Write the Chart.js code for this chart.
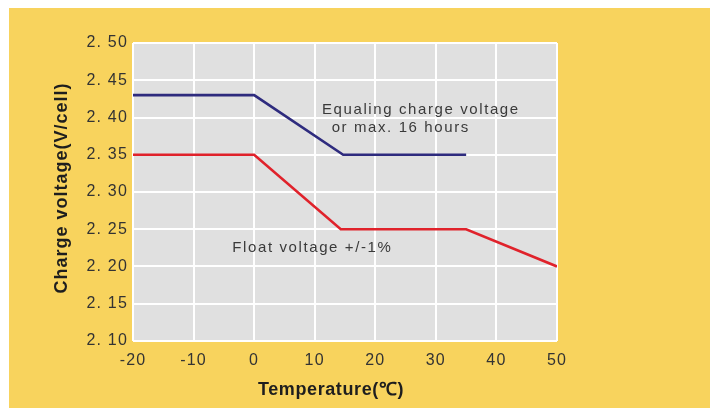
<!DOCTYPE html>
<html>
<head>
<meta charset="utf-8">
<script src="https://cdn.jsdelivr.net/npm/chart.js@4"></script>
<style>
  html, body { margin: 0; padding: 0; background: #ffffff; }
  #wrap { position: relative; width: 717px; height: 408px; }
</style>
</head>
<body>
<div id="wrap"><canvas id="c" width="717" height="408"></canvas></div>
<script>
// ---- data ----
const equalizeTemps = [-20, 0, 14.7, 35];
const equalizeVolts = [2.43, 2.43, 2.35, 2.35];
const floatTemps = [-20, 0, 14.3, 35, 50];
const floatVolts = [2.35, 2.35, 2.25, 2.25, 2.20];
const xTickValues = [-20, -10, 0, 10, 20, 30, 40, 50];
const yTickValues = [2.10, 2.15, 2.20, 2.25, 2.30, 2.35, 2.40, 2.45, 2.50];
const xTitle = 'Temperature(℃)';
const yTitle = 'Charge voltage(V/cell)';
const equalizeLabel = ['Equaling charge voltage', 'or max. 16 hours'];
const floatLabel = 'Float voltage +/-1%';

const toPts = (xs, ys) => xs.map((x, i) => ({ x: x, y: ys[i] }));

const backgroundPlugin = {
  id: 'bg',
  beforeDraw(chart) {
    const ctx = chart.ctx;
    const a = chart.chartArea;
    ctx.save();
    ctx.fillStyle = '#ffffff';
    ctx.fillRect(0, 0, chart.width, chart.height);
    ctx.fillStyle = '#F8D35D';
    ctx.fillRect(9, 8, 701, 400);
    ctx.fillStyle = '#E0E0E0';
    ctx.fillRect(a.left, a.top, a.right - a.left, a.bottom - a.top);
    ctx.restore();
    ctx.letterSpacing = '1.2px';
  }
};

const textPlugin = {
  id: 'texts',
  afterDraw(chart) {
    const ctx = chart.ctx;
    const xs = chart.scales.x, ys = chart.scales.y;
    ctx.save();
    // annotations
    ctx.fillStyle = '#3a3a3a';
    ctx.font = '15px "Liberation Sans", Arial, sans-serif';
    ctx.letterSpacing = '1.6px';
    ctx.textBaseline = 'middle';
    ctx.textAlign = 'left';
    ctx.fillText(equalizeLabel[0], xs.getPixelForValue(11.2), ys.getPixelForValue(2.41));
    ctx.fillText(equalizeLabel[1], xs.getPixelForValue(12.8), ys.getPixelForValue(2.386));
    ctx.fillText(floatLabel, xs.getPixelForValue(-3.6), ys.getPixelForValue(2.225));
    // x-axis title
    ctx.fillStyle = '#1e1e1e';
    ctx.letterSpacing = '0.6px';
    ctx.font = 'bold 18px "Liberation Sans", Arial, sans-serif';
    ctx.textAlign = 'center';
    ctx.fillText(xTitle, 331, 390);
    // y-axis title
    ctx.translate(62, 188);
    ctx.rotate(-Math.PI / 2);
    ctx.letterSpacing = '1px';
    ctx.font = 'bold 18px "Liberation Sans", Arial, sans-serif';
    ctx.fillText(yTitle, 0, 0);
    ctx.restore();
    ctx.letterSpacing = '0px';
  }
};

new Chart(document.getElementById('c'), {
  type: 'line',
  data: {
    datasets: [
      {
        label: 'Equalizing charge voltage',
        data: toPts(equalizeTemps, equalizeVolts),
        borderColor: '#2E2B7E',
        borderWidth: 2.6,
        pointRadius: 0,
        tension: 0,
        fill: false
      },
      {
        label: 'Float voltage',
        data: toPts(floatTemps, floatVolts),
        borderColor: '#E0222B',
        borderWidth: 2.6,
        pointRadius: 0,
        tension: 0,
        fill: false
      }
    ]
  },
  options: {
    responsive: false,
    animation: false,
    layout: { padding: { left: 0, right: 160, top: 43, bottom: 0 } },
    plugins: {
      legend: { display: false },
      tooltip: { enabled: false }
    },
    scales: {
      x: {
        type: 'linear',
        min: -20,
        max: 50,
        afterBuildTicks(scale) { scale.ticks = xTickValues.map(v => ({ value: v })); },
        afterFit(scale) { scale.height = 67; },
        grid: { color: '#ffffff', lineWidth: 2, drawTicks: false },
        border: { display: false },
        ticks: {
          padding: 10,
          color: '#333333',
          font: { size: 16, family: '"Liberation Sans", Arial, sans-serif' },
          maxRotation: 0,
          callback: v => String(v)
        }
      },
      y: {
        type: 'linear',
        min: 2.10,
        max: 2.50,
        afterBuildTicks(scale) { scale.ticks = yTickValues.map(v => ({ value: v })); },
        afterFit(scale) { scale.width = 133; },
        grid: { color: '#ffffff', lineWidth: 2, drawTicks: false },
        border: { display: false },
        ticks: {
          padding: 5,
          color: '#333333',
          font: { size: 16, family: '"Liberation Sans", Arial, sans-serif' },
          callback: v => v.toFixed(2).replace('.', '. ')
        }
      }
    }
  },
  plugins: [backgroundPlugin, textPlugin]
});
</script>
</body>
</html>
